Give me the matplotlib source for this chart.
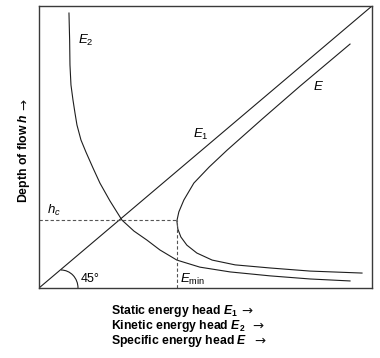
import matplotlib
matplotlib.use("Agg")
import matplotlib.pyplot as plt
from matplotlib.patches import Arc

plt.rcParams['font.family'] = ['Liberation Sans', 'DejaVu Sans']
plt.rcParams['mathtext.fontset'] = 'custom'
plt.rcParams['mathtext.rm'] = 'Liberation Sans'
plt.rcParams['mathtext.it'] = 'Liberation Sans:italic'
plt.rcParams['mathtext.bf'] = 'Liberation Sans:bold'
plt.rcParams['mathtext.bfit'] = 'Liberation Sans:bold:italic'

# Static energy head E1 = h (45-degree line), normalised units
e1_x = [0.0, 1.0]
e1_h = [0.0, 1.0]

# Kinetic energy head E2 vs depth h
e2_x = [0.090, 0.092, 0.093, 0.096, 0.102, 0.108, 0.114, 0.126, 0.141, 0.162,
        0.183, 0.213, 0.249, 0.285, 0.324, 0.363, 0.414, 0.483, 0.574, 0.694,
        0.814, 0.934]
e2_h = [0.975, 0.879, 0.791, 0.720, 0.667, 0.621, 0.578, 0.525, 0.482, 0.426,
        0.372, 0.309, 0.241, 0.202, 0.170, 0.135, 0.099, 0.074, 0.057, 0.043,
        0.032, 0.025]

# Specific energy head E vs depth h
e_x = [0.934, 0.784, 0.670, 0.565, 0.511, 0.465, 0.435, 0.420, 0.414,
       0.417, 0.426, 0.444, 0.474, 0.520, 0.589, 0.694, 0.814, 0.970]
e_h = [0.865, 0.716, 0.599, 0.489, 0.429, 0.372, 0.312, 0.270, 0.238,
       0.209, 0.181, 0.152, 0.124, 0.099, 0.082, 0.071, 0.060, 0.053]

h_c = 0.241
E_min = 0.414

xlabels = [r'Static energy head $\mathbfit{E}_\mathbf{1}$',
           r'Kinetic energy head $\mathbfit{E}_\mathbf{2}$',
           r'Specific energy head $\mathbfit{E}$']
ylabel = r'Depth of flow $\mathbfit{h}$'

W, H = 380, 358
fig = plt.figure(figsize=(W / 100, H / 100), dpi=100)
ax = fig.add_axes([39 / W, 1 - 288 / H, 333 / W, 282 / H])
ax.set_xlim(0, 1)
ax.set_ylim(0, 1)
ax.set_xticks([])
ax.set_yticks([])
for s in ax.spines.values():
    s.set_color('#3a3a3a')
    s.set_linewidth(1.0)

lc = '#1e1e1e'
ax.plot(e1_x, e1_h, color=lc, lw=0.8)
ax.plot(e2_x, e2_h, color=lc, lw=0.8)
ax.plot(e_x, e_h, color=lc, lw=0.8)

ax.plot([0, E_min], [h_c, h_c], color='#555555', lw=0.8, dashes=(3, 2))
ax.plot([E_min, E_min], [0, h_c], color='#555555', lw=0.8, dashes=(3, 2))

arc = Arc((22 / 333, 0), 2 * 17 / 333, 2 * 18 / 282, theta1=0, theta2=90,
          color=lc, lw=0.8)
ax.add_patch(arc)


def px(x, y):
    return x / W, 1 - y / H


fs = 9.5
fig.text(*px(78, 40), r'$E_2$', fontsize=fs, va='center', ha='left')
fig.text(*px(313, 87), r'$E$', fontsize=fs, va='center', ha='left')
fig.text(*px(193, 134), r'$E_1$', fontsize=fs, va='center', ha='left')
fig.text(*px(47, 210), r'$h_c$', fontsize=fs, va='center', ha='left')
fig.text(*px(81, 279), '45°', fontsize=9, va='center', ha='left')
fig.text(*px(180, 279), r'$E_{\mathrm{min}}$', fontsize=fs, va='center', ha='left')

fig.text(*px(24, 158), ylabel, fontsize=8.8,
         fontweight='bold', rotation=90, va='center', ha='center')
fig.text(*px(24, 104), '→', fontsize=9.5, family='DejaVu Sans',
         rotation=90, va='center', ha='center', color='#111111')

fig.canvas.draw()
renderer = fig.canvas.get_renderer()
gaps = [3, 7, 7]
for i, t in enumerate(xlabels):
    y = 311 + 15 * i
    txt = fig.text(*px(111, y), t, fontsize=8.8, fontweight='bold',
                   va='center', ha='left')
    bb = txt.get_window_extent(renderer)
    fig.text(*px(bb.x1 + gaps[i], y), '→', fontsize=9.5, family='DejaVu Sans',
             va='center', ha='left', color='#111111')

fig.savefig('out.png', dpi=100)
